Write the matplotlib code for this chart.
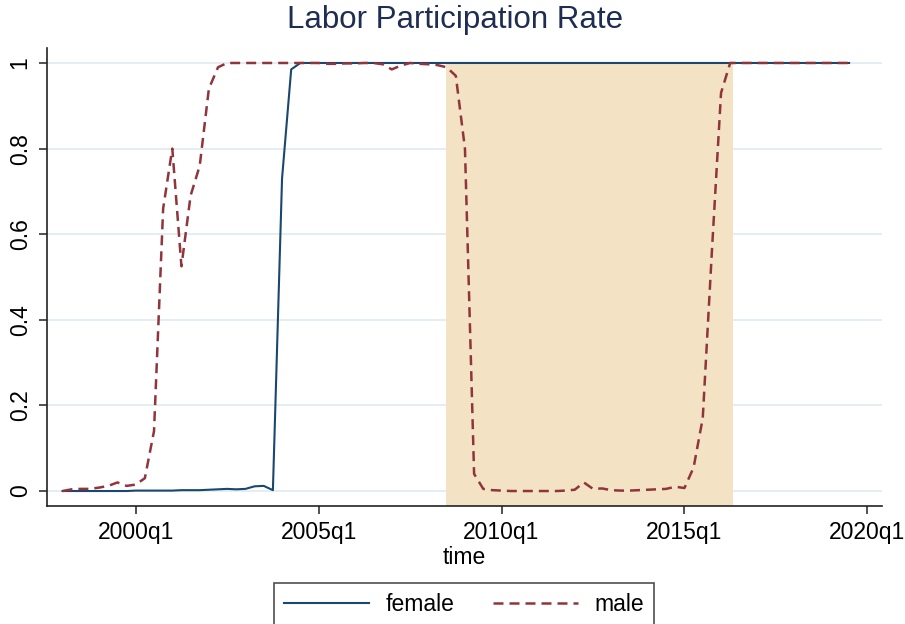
import matplotlib
matplotlib.use("Agg")
import matplotlib.pyplot as plt
import pandas as pd

# ---------------- data ----------------
start_quarter = "1998Q1"
female = [0.0, 0.0, 0.0, 0.0, 0.0, 0.0, 0.0, 0.0,                 # 1998q1-1999q4
          0.001, 0.001, 0.001, 0.001, 0.001, 0.002, 0.002, 0.002,  # 2000q1-2001q4
          0.003, 0.004, 0.005, 0.004, 0.005, 0.011, 0.012, 0.002,  # 2002q1-2003q4
          0.73, 0.985] + [1.0] * 61                                # 2004q1-2019q3
male = [0.0, 0.004, 0.005, 0.005, 0.008, 0.012, 0.02, 0.012,      # 1998q1-1999q4
        0.015, 0.03, 0.14, 0.66, 0.80, 0.525, 0.69, 0.76,         # 2000q1-2001q4
        0.94, 0.99, 1.0, 1.0, 1.0, 1.0, 1.0, 1.0,                 # 2002q1-2003q4
        1.0, 1.0, 1.0, 1.0, 1.0, 0.998, 0.998, 0.999,             # 2004q1-2005q4
        0.999, 1.0, 1.0, 0.997, 0.985, 0.994, 1.0, 0.998,         # 2006q1-2007q4
        0.997, 0.995, 0.99, 0.97, 0.80, 0.04, 0.005, 0.002,       # 2008q1-2009q4
        0.001, 0.0, 0.0, 0.0, 0.0, 0.0, 0.0, 0.001,               # 2010q1-2011q4
        0.003, 0.02, 0.005, 0.006, 0.002, 0.001, 0.001, 0.002,    # 2012q1-2013q4
        0.003, 0.004, 0.005, 0.01, 0.007, 0.055, 0.17, 0.56,      # 2014q1-2015q4
        0.93, 1.0, 1.0, 1.0, 1.0, 1.0, 1.0, 1.0,                  # 2016q1-2017q4
        1.0, 1.0, 1.0, 1.0, 1.0, 1.0, 1.0]                        # 2018q1-2019q3
shade_start = "2008Q3"
shade_end = "2016Q2"
tick_quarters = ["2000Q1", "2005Q1", "2010Q1", "2015Q1", "2020Q1"]
tick_labels = ["2000q1", "2005q1", "2010q1", "2015q1", "2020q1"]
y_ticks = [0, 0.2, 0.4, 0.6, 0.8, 1.0]
y_labels = ["0", "0.2", "0.4", "0.6", "0.8", "1"]

# ---------------- plot ----------------
plt.rcParams['font.family'] = ['Liberation Sans', 'DejaVu Sans']

def qord(s):
    return pd.Period(s, freq='Q').ordinal

x_female = [qord(start_quarter) + i for i in range(len(female))]
x_male = [qord(start_quarter) + i for i in range(len(male))]

fig = plt.figure(figsize=(9.05, 6.24), dpi=100)
ax = fig.add_axes([47/905, 1-506/624, (882-47)/905, (506-48)/624])

ylo, yhi = -0.035, 1.035
ax.set_ylim(ylo, yhi)
ax.set_xlim(x_male[0] - 1.7, x_male[-1] + 3.6)

for yt in y_ticks:
    ax.axhline(yt, color='#E2ECF0', lw=1.3, zorder=0)

ax.fill_between([qord(shade_start) - 0.1, qord(shade_end) + 0.3], [ylo, ylo], [1.0, 1.0],
                color='#F3E3C4', lw=0, zorder=1)

ax.plot(x_female, female, color='#1A476F', lw=1.5, label='female', zorder=3)
ax.plot(x_male, male, color='#90353B', lw=1.8, ls=(0, (4, 2.4)), label='male', zorder=3)

fs = 16.5
ax.set_xticks([qord(t) for t in tick_quarters])
ax.set_xticklabels(tick_labels, fontsize=fs)
ax.set_yticks(y_ticks)
ax.set_yticklabels(y_labels, fontsize=fs, rotation=90, va='center')
ax.tick_params(axis='both', direction='out', length=6, width=1.1, color='#222222', pad=5)
ax.set_xlabel('time', fontsize=fs, labelpad=1)

for s in ['top', 'right']:
    ax.spines[s].set_visible(False)
for s in ['left', 'bottom']:
    ax.spines[s].set_color('#222222')
    ax.spines[s].set_linewidth(1.2)

fig.suptitle('Labor Participation Rate', fontsize=22.5, color='#1F2D52', x=455/905, y=1-5/624, va='top')

leg = fig.legend(loc='upper center', bbox_to_anchor=(464/905, 1-583/624), ncol=2,
                 fontsize=fs, frameon=True, fancybox=False, edgecolor='#222222',
                 handlelength=3.7, handletextpad=0.7, columnspacing=1.7, borderpad=0.45,
                 borderaxespad=0)
leg.get_frame().set_linewidth(1.2)

fig.savefig('out.png', dpi=100)
